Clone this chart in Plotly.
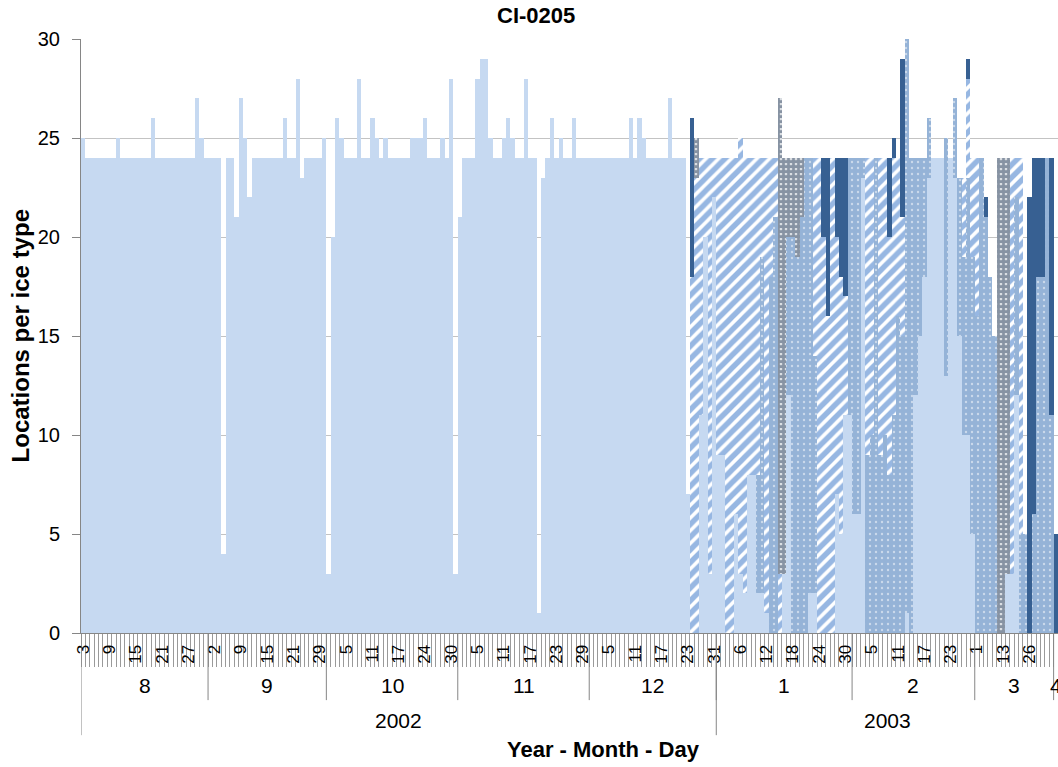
import plotly.graph_objects as go

FONT = "Liberation Sans, Arial, sans-serif"
TITLE = "CI-0205"
X_TITLE = "Year - Month - Day"
Y_TITLE = "Locations per ice type"

# day-of-month categories (days without an observation are left out)
AUG_2002 = [3, 4, 5, 6, 7, 8, 9, 10, 11, 12, 13, 14, 15, 16, 17, 18, 19, 20, 21, 22,
            23, 24, 25, 26, 27, 28, 29, 30, 31]
SEP_2002 = [1, 2, 3, 4, 6, 7, 8, 9, 10, 11, 12, 13, 14, 15, 16, 17, 18, 19, 20, 21,
            22, 23, 25, 27, 28, 29, 30]
OCT_2002 = [1, 2, 3, 4, 5, 6, 7, 8, 9, 10, 11, 12, 13, 14, 15, 16, 17, 18, 19, 21,
            22, 23, 24, 25, 26, 27, 28, 29, 30, 31]
NOV_2002 = [1, 2, 3, 4, 5, 6, 7, 8, 9, 10, 11, 12, 13, 14, 15, 16, 17, 18, 19, 20,
            21, 22, 23, 24, 25, 26, 27, 28, 29, 30]
DEC_2002 = [1, 2, 3, 4, 5, 6, 7, 8, 9, 10, 11, 12, 13, 14, 15, 16, 17, 18, 19, 20,
            21, 22, 23, 24, 26, 27, 29, 30, 31]
JAN_2003 = [1, 2, 3, 4, 5, 6, 7, 8, 9, 10, 11, 12, 13, 14, 15, 16, 17, 18, 19, 20,
            21, 22, 23, 24, 25, 26, 27, 28, 29, 30, 31]
FEB_2003 = [1, 2, 3, 4, 5, 6, 7, 8, 9, 10, 11, 12, 13, 14, 15, 16, 17, 18, 19, 20,
            21, 22, 23, 24, 25, 26, 27, 28]
MAR_2003 = [1, 3, 5, 7, 9, 11, 13, 15, 17, 19, 22, 24, 26, 27, 28, 29, 30, 31]
APR_2003 = [1]

MONTHS = [
    (2002, 8, AUG_2002), (2002, 9, SEP_2002), (2002, 10, OCT_2002),
    (2002, 11, NOV_2002), (2002, 12, DEC_2002), (2003, 1, JAN_2003),
    (2003, 2, FEB_2003), (2003, 3, MAR_2003), (2003, 4, APR_2003),
]

# open season, Aug 3 - Dec 20: only the light type
OPEN_SEASON = [
    25, 24, 24, 24, 24, 24, 24, 24, 25, 24, 24, 24, 24, 24, 24, 24, 26, 24, 24, 24,
    24, 24, 24, 24, 24, 24, 27, 25, 24, 24, 24, 24, 4, 24, 24, 21, 27, 25, 22, 24,
    24, 24, 24, 24, 24, 24, 26, 24, 24, 28, 23, 24, 24, 24, 24, 25, 3, 20, 26, 25,
    24, 24, 24, 28, 24, 24, 26, 25, 24, 25, 24, 24, 24, 24, 24, 25, 25, 25, 26, 24,
    24, 24, 25, 24, 28, 3, 21, 24, 24, 24, 28, 29, 29, 25, 24, 24, 25, 26, 25, 24,
    24, 28, 24, 24, 1, 23, 24, 26, 24, 25, 24, 24, 26, 24, 24, 24, 24, 24, 24, 24,
    24, 24, 24, 24, 24, 26, 24, 26, 25, 24, 24, 24, 24, 24, 27, 24,
]

# freeze-up, Dec 21 onwards: five ice types, stacked bottom to top
FREEZE_LIGHT = [
    24, 24, 7, 0, 0, 11, 20, 3, 22, 9, 9, 0, 0, 6, 3, 2, 8, 8, 2, 2,
    1, 0, 0, 0, 3, 12, 0, 0, 0, 0, 2, 2, 0, 0, 0, 0, 7, 5, 11, 11,
    6, 6, 23, 0, 0, 0, 0, 0, 0, 0, 0, 0, 1, 0, 12, 15, 18, 23, 24, 24,
    24, 13, 24, 23, 15, 10, 10, 5, 0, 0, 0, 0, 0, 0, 0, 3, 3, 12, 0, 0,
    0, 0, 0, 0, 0, 0, 0,
]
FREEZE_DOTTED = [
    0, 0, 0, 0, 0, 0, 0, 0, 0, 0, 0, 0, 0, 0, 0, 0, 0, 0, 6, 17,
    0, 18, 21, 0, 0, 8, 20, 19, 21, 24, 22, 12, 0, 0, 0, 0, 0, 0, 0, 13,
    18, 18, 1, 9, 10, 24, 9, 10, 8, 11, 16, 15, 29, 24, 12, 9, 6, 3, 0, 0,
    0, 12, 0, 4, 8, 9, 13, 14, 16, 24, 21, 18, 15, 0, 0, 0, 0, 10, 5, 5,
    0, 6, 18, 18, 24, 11, 0,
]
FREEZE_HATCHED = [
    0, 0, 0, 18, 23, 13, 4, 21, 2, 15, 15, 24, 24, 18, 22, 22, 16, 16, 16, 5,
    23, 6, 3, 3, 0, 0, 0, 0, 0, 0, 0, 10, 24, 20, 16, 24, 13, 13, 6, 0,
    0, 0, 0, 15, 14, 0, 15, 14, 12, 13, 8, 6, 0, 0, 0, 0, 0, 0, 0, 0,
    0, 0, 0, 0, 0, 4, 5, 5, 8, 0, 0, 0, 0, 0, 0, 0, 21, 2, 19, 0,
    0, 0, 0, 0, 0, 0, 0,
]
FREEZE_NAVY = [
    0, 0, 0, 0, 2, 0, 0, 0, 0, 0, 0, 0, 0, 0, 0, 0, 0, 0, 0, 0,
    0, 0, 0, 24, 21, 4, 4, 5, 3, 0, 0, 0, 0, 0, 0, 0, 0, 0, 0, 0,
    0, 0, 0, 0, 0, 0, 0, 0, 0, 0, 0, 0, 0, 0, 0, 0, 0, 0, 0, 0,
    0, 0, 0, 0, 0, 0, 0, 0, 0, 0, 0, 0, 0, 24, 24, 21, 0, 0, 0, 0,
    0, 0, 0, 0, 0, 0, 0,
]
FREEZE_DARK = [
    0, 0, 0, 8, 0, 0, 0, 0, 0, 0, 0, 0, 0, 0, 0, 0, 0, 0, 0, 0,
    0, 0, 0, 0, 0, 0, 0, 0, 0, 0, 0, 0, 0, 4, 8, 0, 4, 6, 7, 0,
    0, 0, 0, 0, 0, 0, 0, 0, 4, 1, 0, 8, 0, 0, 0, 0, 0, 0, 0, 0,
    0, 0, 0, 0, 0, 0, 1, 0, 0, 0, 1, 0, 0, 0, 0, 0, 0, 0, 0, 0,
    22, 18, 6, 6, 0, 13, 5,
]

COLORS = {
    "light": "#C6D9F1",
    "dotted": "#95B3D7",
    "hatched": "#2F6FC6",
    "navy": "#0F2747",
    "dark": "#376092",
    "axis": "#868686",
    "grid": "#C3C3C3",
}

# ---- categories -------------------------------------------------------
days, month_keys = [], []
for year, month, dlist in MONTHS:
    for d in dlist:
        days.append(d)
        month_keys.append((year, month))
x = list(range(len(days)))

pad = [None] * len(OPEN_SEASON)
series = [
    ("Type A", OPEN_SEASON + FREEZE_LIGHT,
     dict(color=COLORS["light"])),
    ("Type B", pad + FREEZE_DOTTED,
     dict(color=COLORS["dotted"],
          pattern=dict(shape=".", fgcolor="white", size=6, solidity=0.12, fillmode="overlay"))),
    ("Type C", pad + FREEZE_HATCHED,
     dict(color="white",
          pattern=dict(shape="/", fgcolor=COLORS["hatched"], size=9, solidity=0.6, fillmode="overlay"))),
    ("Type D", pad + FREEZE_NAVY,
     dict(color="white",
          pattern=dict(shape=".", fgcolor=COLORS["navy"], size=5, solidity=0.8, fillmode="overlay"))),
    ("Type E", pad + FREEZE_DARK,
     dict(color=COLORS["dark"])),
]

fig = go.Figure()
for name, vals, marker in series:
    fig.add_trace(
        go.Bar(
            x=x,
            y=vals,
            name=name,
            marker=dict(line=dict(width=0), **marker),
            width=1,
            hovertemplate="%{y}<extra>" + name + "</extra>",
        )
    )

tickvals = x[::6]
ticktext = [str(days[i]) for i in tickvals]

# month / year spans on the category axis
spans, years = [], []
for i, key in enumerate(month_keys):
    if not spans or spans[-1][0] != key:
        spans.append([key, i, i])
    else:
        spans[-1][2] = i
for key, s, e in spans:
    if not years or years[-1][0] != key[0]:
        years.append([key[0], s, e])
    else:
        years[-1][2] = e

Y_MONTH_LINE = -0.113
Y_YEAR_LINE = -0.172
shapes, annotations = [], []
for key, s, e in spans:
    if s > 0:
        shapes.append(dict(type="line", xref="x", yref="paper", x0=s - 0.5, x1=s - 0.5,
                           y0=0, y1=Y_MONTH_LINE, line=dict(color=COLORS["axis"], width=1)))
    annotations.append(dict(x=(s + e) / 2, y=-0.088, xref="x", yref="paper", text=str(key[1]),
                            showarrow=False, font=dict(size=21, color="black"), yanchor="middle"))
for yr, s, e in years:
    shapes.append(dict(type="line", xref="x", yref="paper", x0=s - 0.5, x1=s - 0.5,
                       y0=0, y1=Y_YEAR_LINE, line=dict(color=COLORS["axis"], width=1)))
    annotations.append(dict(x=(s + e) / 2, y=-0.148, xref="x", yref="paper", text=str(yr),
                            showarrow=False, font=dict(size=21, color="black"), yanchor="middle"))

annotations += [
    dict(x=0.466, y=1.039, xref="paper", yref="paper", text="<b>" + TITLE + "</b>",
         showarrow=False, font=dict(size=22, color="black"), yanchor="middle"),
    dict(x=0.535, y=-0.196, xref="paper", yref="paper", text="<b>" + X_TITLE + "</b>",
         showarrow=False, font=dict(size=22, color="black"), yanchor="middle"),
    dict(x=-0.062, y=0.5, xref="paper", yref="paper", text="<b>" + Y_TITLE + "</b>",
         showarrow=False, textangle=-90, font=dict(size=24, color="black"), xanchor="center"),
]

fig.update_layout(
    width=1058,
    height=767,
    margin=dict(l=81, r=0, t=39, b=134),
    paper_bgcolor="white",
    plot_bgcolor="white",
    font=dict(family=FONT, color="black"),
    barmode="stack",
    bargap=0,
    showlegend=False,
    shapes=shapes,
    annotations=annotations,
    xaxis=dict(
        range=[-0.5, len(days) - 0.5],
        tickmode="array",
        tickvals=tickvals,
        ticktext=ticktext,
        tickangle=-90,
        tickfont=dict(size=17, color="black"),
        ticks="",
        ticklabelstandoff=4,
        showline=True,
        linecolor=COLORS["axis"],
        showgrid=False,
        zeroline=False,
        minor=dict(ticks="outside", ticklen=33, tickcolor="#9A9A9A", tickwidth=1,
                   tickmode="linear", tick0=-0.5, dtick=1, showgrid=False),
    ),
    yaxis=dict(
        range=[0, 30],
        dtick=5,
        tickfont=dict(size=20, color="black"),
        ticks="outside",
        ticklen=8,
        tickcolor=COLORS["axis"],
        ticklabelstandoff=8,
        showline=True,
        linecolor=COLORS["axis"],
        gridcolor=COLORS["grid"],
        zeroline=False,
    ),
)

fig.write_html(
    "out.html",
    config={"displayModeBar": False},
    post_script="document.body.style.margin = '0px';",
)
